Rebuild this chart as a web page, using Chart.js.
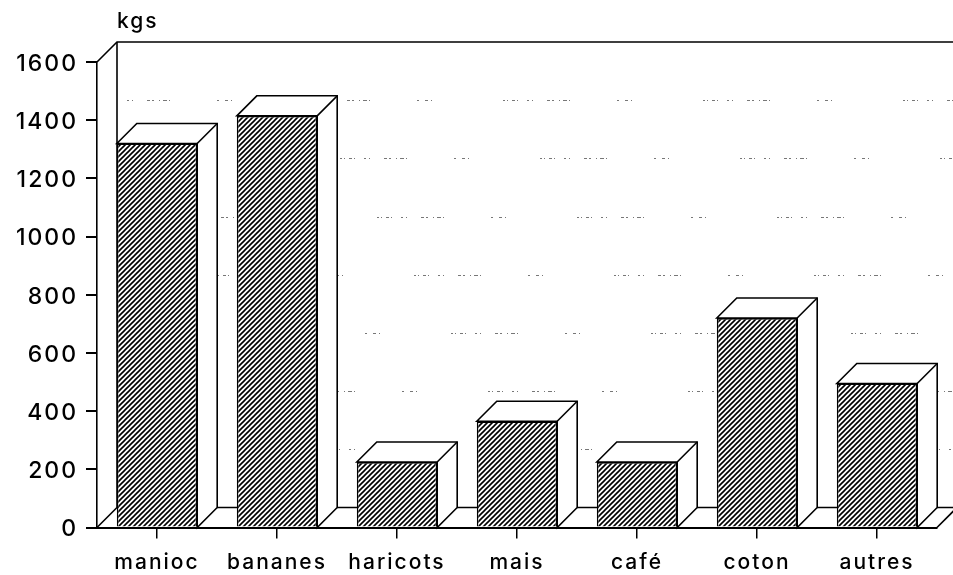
<!DOCTYPE html>
<html lang="en">
<head>
  <meta charset="UTF-8">
  <title>Production en kgs</title>
  <script src="https://cdn.jsdelivr.net/npm/chart.js"></script>
  <style>
    body { margin: 0; background: #fff; }
    canvas { display: block; }
  </style>
</head>
<body>
  <canvas id="cropChart" width="953" height="575"></canvas>

  <script>
    const categories = ['manioc', 'bananes', 'haricots', 'mais', 'café', 'coton', 'autres'];
    const kgs = [1320, 1415, 225, 365, 225, 720, 495];
    const yTicks = [0, 200, 400, 600, 800, 1000, 1200, 1400, 1600];
    const yUnit = 'kgs';

    const DEPTH = 20;
    const FONT = 'Inter, "Liberation Sans", sans-serif';

    // diagonal hatching for the bar fronts
    function hatch() {
      const c = document.createElement('canvas');
      c.width = 5;
      c.height = 5;
      const p = c.getContext('2d');
      p.fillStyle = '#fff';
      p.fillRect(0, 0, 5, 5);
      p.strokeStyle = '#000';
      p.lineWidth = 1.6;
      p.beginPath();
      p.moveTo(-1, 1); p.lineTo(1, -1);
      p.moveTo(-1, 6); p.lineTo(6, -1);
      p.moveTo(4, 6); p.lineTo(6, 4);
      p.stroke();
      return p.createPattern(c, 'repeat');
    }

    function line(ctx, pts) {
      ctx.beginPath();
      pts.forEach((p, i) => i ? ctx.lineTo(p[0], p[1]) : ctx.moveTo(p[0], p[1]));
      ctx.stroke();
    }

    const box3d = {
      id: 'box3d',
      beforeDraw(chart) {
        chart.ctx.letterSpacing = '2px';
      },
      beforeDatasetsDraw(chart) {
        const ctx = chart.ctx;
        const x = chart.scales.x;
        const y = chart.scales.y;
        const y0 = y.getPixelForValue(0);
        const yMax = y.getPixelForValue(1600);
        const W = chart.width;

        ctx.save();
        // broken dotted grid on the back wall, the scan lost most of it
        ctx.strokeStyle = '#777';
        ctx.lineWidth = 1;
        ctx.setLineDash([2, 2, 1, 4, 3, 2, 1, 9, 2, 3, 1, 14, 3, 2, 2, 5, 1, 3, 4, 2, 1, 47, 2, 6, 3, 3, 1, 71]);
        yTicks.slice(1, -1).forEach((v, i) => {
          const py = Math.round(y.getPixelForValue(v) - DEPTH) + 0.5;
          ctx.lineDashOffset = i * 37;
          line(ctx, [[x.left + DEPTH + 8, py], [W, py]]);
        });
        ctx.setLineDash([]);

        // walls and floor
        ctx.strokeStyle = '#000';
        ctx.lineWidth = 1.6;
        line(ctx, [[x.left, yMax], [x.left + DEPTH, yMax - DEPTH], [W, yMax - DEPTH]]);
        line(ctx, [[x.left + DEPTH, yMax - DEPTH], [x.left + DEPTH, y0 - DEPTH]]);
        line(ctx, [[x.left, y0], [x.left + DEPTH, y0 - DEPTH], [W, y0 - DEPTH]]);
        line(ctx, [[x.right, y0], [x.right + DEPTH, y0 - DEPTH]]);

        // top and side of every bar, the front comes from the library
        chart.getDatasetMeta(0).data.forEach(bar => {
          const l = bar.x - bar.width / 2;
          const r = bar.x + bar.width / 2;
          ctx.fillStyle = '#fff';
          ctx.beginPath();
          ctx.moveTo(l, bar.y);
          ctx.lineTo(l + DEPTH, bar.y - DEPTH);
          ctx.lineTo(r + DEPTH, bar.y - DEPTH);
          ctx.lineTo(r + DEPTH, y0 - DEPTH);
          ctx.lineTo(r, y0);
          ctx.lineTo(r, bar.y);
          ctx.closePath();
          ctx.fill();
          ctx.stroke();
          line(ctx, [[r, bar.y], [r + DEPTH, bar.y - DEPTH]]);
        });
        ctx.restore();
      },
      afterDraw(chart) {
        const ctx = chart.ctx;
        ctx.save();
        ctx.fillStyle = '#000';
        ctx.font = '500 21px ' + FONT;
        ctx.textAlign = 'left';
        ctx.textBaseline = 'alphabetic';
        ctx.fillText(yUnit, 117, 28);
        ctx.restore();
      }
    };

    new Chart(document.getElementById('cropChart'), {
      type: 'bar',
      data: {
        labels: categories,
        datasets: [{
          data: kgs,
          backgroundColor: hatch(),
          borderColor: '#000',
          borderWidth: 1.6,
          categoryPercentage: 1,
          barPercentage: 0.67
        }]
      },
      options: {
        responsive: false,
        animation: false,
        layout: { padding: { top: 62, right: 16 } },
        plugins: { legend: { display: false }, tooltip: { enabled: false } },
        scales: {
          x: {
            afterFit(s) { s.height = 47.5; },
            grid: { offset: false, drawOnChartArea: false, color: '#000', lineWidth: 1.5, tickLength: 11 },
            border: { color: '#000', width: 2 },
            ticks: {
              color: '#000',
              font: { family: FONT, size: 21, weight: '500' },
              padding: 12,
              maxRotation: 0,
              autoSkip: false
            }
          },
          y: {
            min: 0,
            max: 1600,
            afterFit(s) { s.width = 97; },
            afterBuildTicks(s) { s.ticks = yTicks.map(v => ({ value: v })); },
            grid: { drawOnChartArea: false, color: '#000', lineWidth: 2, tickLength: 11 },
            border: { color: '#000', width: 1.6 },
            ticks: {
              color: '#000',
              font: { family: FONT, size: 23, weight: '500' },
              padding: 8,
              labelOffset: 2,
              callback: v => String(v)
            }
          }
        }
      },
      plugins: [box3d]
    });
  </script>
</body>
</html>
